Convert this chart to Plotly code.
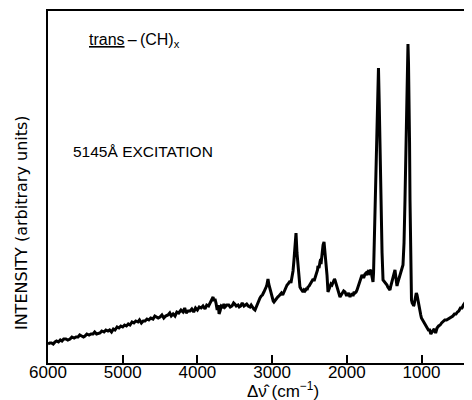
import plotly.graph_objects as go

# Raman shift (cm^-1) and intensity (arbitrary units)
wavenumber = [6000, 5975, 5953, 5930, 5906, 5885, 5860, 5835, 5813, 5790, 5760, 5735,
              5705, 5680, 5650, 5625, 5598, 5575, 5550, 5525, 5505, 5480, 5450, 5425,
              5398, 5375, 5350, 5325, 5304, 5280, 5250, 5225, 5197, 5175, 5150, 5125,
              5103, 5075, 5050, 5025, 5000, 4975, 4950, 4925, 4902, 4875, 4850, 4825,
              4795, 4775, 4750, 4725, 4701, 4675, 4650, 4625, 4594, 4570, 4550, 4525,
              4501, 4475, 4450, 4425, 4394, 4370, 4350, 4325, 4300, 4275, 4250, 4220,
              4193, 4170, 4150, 4125, 4099, 4075, 4050, 4025, 4000, 3975, 3950, 3925,
              3898, 3875, 3850, 3825, 3805, 3790, 3780, 3765, 3751, 3735, 3720, 3710,
              3697, 3680, 3660, 3645, 3630, 3605, 3580, 3560, 3537, 3515, 3500, 3480,
              3456, 3440, 3420, 3400, 3376, 3360, 3340, 3320, 3296, 3280, 3260, 3245,
              3229, 3210, 3195, 3180, 3162, 3145, 3130, 3110, 3095, 3080, 3070, 3062,
              3055, 3045, 3035, 3025, 3015, 3005, 2995, 2985, 2975, 2958, 2940, 2925,
              2908, 2890, 2875, 2858, 2841, 2828, 2815, 2800, 2787, 2775, 2760, 2748,
              2734, 2720, 2707, 2695, 2680, 2667, 2653, 2640, 2627, 2613, 2600, 2586,
              2573, 2560, 2550, 2540, 2533, 2520, 2505, 2492, 2479, 2465, 2450, 2438,
              2426, 2412, 2400, 2392, 2386, 2372, 2359, 2350, 2345, 2338, 2332, 2318,
              2305, 2292, 2278, 2265, 2252, 2238, 2225, 2212, 2198, 2185, 2175, 2165,
              2158, 2145, 2135, 2125, 2118, 2105, 2091, 2075, 2060, 2042, 2024, 2008,
              1990, 1975, 1957, 1945, 1935, 1925, 1917, 1903, 1890, 1876, 1863, 1846,
              1830, 1813, 1797, 1783, 1770, 1756, 1743, 1729, 1715, 1702, 1689, 1677,
              1665, 1656, 1649, 1642, 1635, 1628, 1622, 1609, 1596, 1586, 1576, 1566,
              1556, 1549, 1542, 1528, 1515, 1502, 1490, 1476, 1462, 1451, 1440, 1431,
              1422, 1411, 1400, 1390, 1381, 1368, 1355, 1347, 1340, 1334, 1328, 1319,
              1310, 1299, 1288, 1276, 1265, 1256, 1248, 1234, 1221, 1207, 1194, 1187,
              1181, 1174, 1167, 1160, 1154, 1144, 1134, 1124, 1115, 1107, 1100, 1090,
              1080, 1070, 1060, 1052, 1045, 1039, 1033, 1021, 1010, 1001, 993, 976,
              960, 943, 926, 908, 890, 875, 859, 845, 830, 811, 792, 771,
              750, 731, 712, 688, 665, 641, 618, 599, 580, 559, 538, 519,
              500, 479, 458, 439, 420, 398, 377, 363, 350, 337, 324]
intensity = [19, 20, 20, 19, 21, 22, 21, 23, 22, 24, 24, 23,
             24, 26, 25, 26, 26, 28, 27, 26, 27, 29, 28, 29,
             29, 31, 29, 30, 30, 32, 31, 33, 32, 33, 31, 34,
             33, 36, 35, 37, 36, 38, 37, 39, 38, 41, 40, 42,
             41, 43, 40, 42, 42, 44, 43, 45, 44, 47, 46, 45,
             46, 48, 45, 47, 48, 50, 47, 49, 47, 51, 50, 53,
             51, 55, 50, 52, 52, 54, 51, 55, 53, 56, 55, 57,
             54, 58, 57, 61, 64, 66, 62, 64, 60, 53, 58, 49,
             52, 57, 56, 59, 56, 58, 58, 56, 57, 60, 59, 57,
             58, 56, 57, 60, 57, 58, 59, 57, 56, 58, 55, 54,
             53, 57, 58, 62, 65, 67, 68, 71, 73, 76, 78, 82,
             84, 79, 76, 72, 70, 66, 64, 62, 61, 63, 65, 66,
             67, 69, 70, 68, 71, 74, 76, 78, 79, 81, 82, 80,
             85, 92, 103, 112, 130, 110, 98, 85, 76, 74, 72, 71,
             73, 72, 73, 75, 73, 76, 77, 79, 80, 82, 84, 82,
             85, 88, 90, 93, 97, 95, 101, 104, 99, 106, 113, 118,
             121, 112, 103, 88, 71, 74, 75, 79, 78, 81, 82, 84,
             83, 80, 77, 75, 73, 70, 66, 68, 70, 72, 71, 68,
             68, 70, 66, 69, 67, 70, 67, 71, 70, 71, 73, 77,
             80, 84, 88, 86, 86, 89, 90, 88, 91, 90, 93, 92,
             88, 84, 81, 90, 113, 135, 160, 185, 213, 250, 295, 260,
             223, 185, 143, 110, 83, 82, 80, 79, 78, 76, 75, 73,
             73, 77, 80, 84, 85, 90, 93, 88, 84, 79, 77, 80,
             82, 85, 88, 90, 94, 96, 98, 120, 163, 215, 263, 295,
             319, 300, 273, 220, 163, 110, 63, 60, 60, 57, 58, 62,
             66, 70, 68, 64, 62, 60, 58, 52, 48, 45, 44, 42,
             40, 37, 36, 33, 33, 29, 31, 33, 34, 30, 35, 37,
             38, 40, 41, 43, 43, 44, 45, 46, 47, 49, 49, 51,
             52, 55, 55, 58, 60, 62, 65, 69, 71, 74, 80]

tick_values = [6000, 5000, 4000, 3000, 2000, 1000]
tick_labels = ["6000", "5000", "4000", "3000", "2000", "1000"]

fig = go.Figure()
fig.add_trace(go.Scatter(x=wavenumber, y=intensity, mode="lines",
                         line=dict(color="black", width=3, shape="linear"),
                         hoverinfo="skip", showlegend=False))

font_family = "Liberation Sans, Arial, sans-serif"

# the page body has an 8px margin, so the figure is sized to fit the window
fig.update_layout(
    width=464, height=392,
    margin=dict(l=40, r=0, t=3, b=37, autoexpand=False),
    paper_bgcolor="white", plot_bgcolor="white",
    font=dict(family=font_family, color="black"),
    xaxis=dict(range=[6000, 324], tickvals=tick_values, ticktext=tick_labels,
               ticks="inside", ticklen=8, tickwidth=1.5, tickcolor="black",
               showline=True, linecolor="black", linewidth=1.5, mirror=True,
               showgrid=False, zeroline=False, automargin=False,
               ticklabelstandoff=-7,
               tickfont=dict(size=17, family=font_family, color="black")),
    yaxis=dict(range=[0, 352], showticklabels=False, ticks="",
               showline=True, linecolor="black", linewidth=1.5, mirror=False,
               showgrid=False, zeroline=False, automargin=False),
)

fig.add_annotation(xref="paper", yref="paper", x=-0.064, y=0.40,
                   text="INTENSITY (arbitrary units)", textangle=-90, showarrow=False,
                   font=dict(size=16, family="DejaVu Sans, sans-serif", color="black"),
                   xanchor="center", yanchor="middle")
fig.add_annotation(xref="paper", yref="paper", x=0.554, y=-0.077,
                   text="Δν̂ (cm<sup>−1</sup>)", showarrow=False,
                   font=dict(size=17, family=font_family, color="black"),
                   xanchor="center", yanchor="middle")
fig.add_annotation(xref="paper", yref="paper", x=0.092, y=0.915,
                   text="<u>trans</u>\u2009–\u2009(CH)<sub>x</sub>", showarrow=False,
                   font=dict(size=16, family=font_family, color="black"),
                   xanchor="left", yanchor="middle")
fig.add_annotation(xref="paper", yref="paper", x=0.055, y=0.60,
                   text="5145Å EXCITATION", showarrow=False,
                   font=dict(size=15.5, family=font_family, color="black"),
                   xanchor="left", yanchor="middle")

fig.write_html("out.html")
